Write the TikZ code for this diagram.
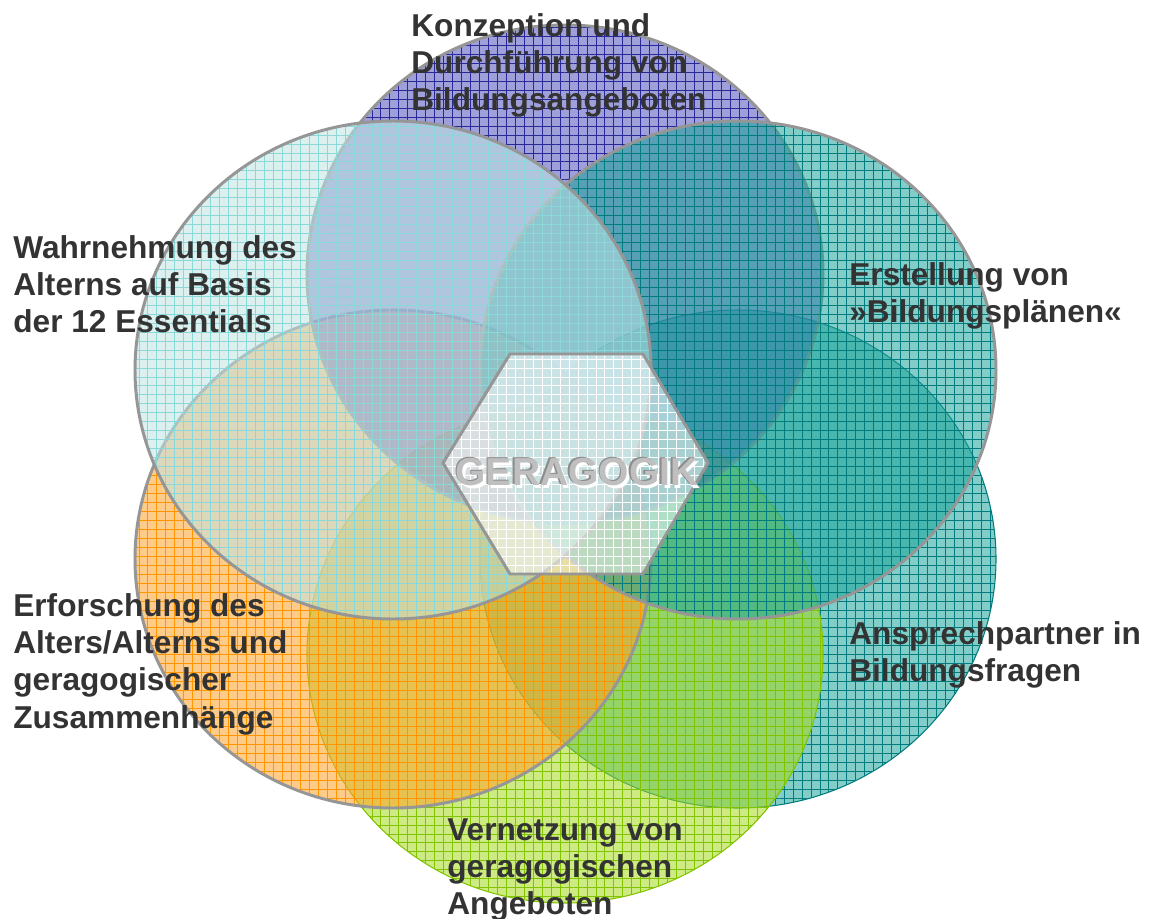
\documentclass[tikz,border=0pt]{standalone}
\usepackage{fontspec}
\setmainfont{Liberation Sans}
\usetikzlibrary{patterns}

\definecolor{rimgray}{RGB}{150,150,150}
\definecolor{txtgray}{RGB}{51,51,51}
\definecolor{lila}{RGB}{80,80,185}
\definecolor{lilagrid}{RGB}{40,40,150}
\definecolor{eis}{RGB}{191,228,228}
\definecolor{eisgrid}{RGB}{140,215,215}
\definecolor{petrol}{RGB}{28,164,155}
\definecolor{petrolgrid}{RGB}{0,124,127}
\definecolor{apricot}{RGB}{255,160,40}
\definecolor{apricotgrid}{RGB}{255,150,0}
\definecolor{maigruen}{RGB}{164,219,28}
\definecolor{maigruengrid}{RGB}{130,195,0}

\pgfdeclarepatternformonly{minigrid}{\pgfqpoint{-0.1pt}{-0.1pt}}{\pgfqpoint{5.2pt}{5.2pt}}{\pgfqpoint{5.1pt}{5.1pt}}{%
  \pgfsetlinewidth{0.4pt}
  \pgfpathmoveto{\pgfqpoint{0pt}{2.55pt}}\pgfpathlineto{\pgfqpoint{5.1pt}{2.55pt}}
  \pgfpathmoveto{\pgfqpoint{2.55pt}{0pt}}\pgfpathlineto{\pgfqpoint{2.55pt}{5.1pt}}
  \pgfusepath{stroke}}

\begin{document}
\begin{tikzpicture}[x=0.02cm, y=0.02cm,
  bubble/.style 2 args={preaction={fill=#1, fill opacity=.55}, pattern=minigrid, pattern color=#2, fill opacity=.5},
  rim/.style={draw=rimgray, line width=1.7pt},
  rubrik/.style={anchor=north west, align=left, inner sep=0pt, text=txtgray, font=\fontsize{18}{21.2}\selectfont\bfseries},
  gerafont/.style={inner sep=0pt, text=black!25, font=\fontsize{22.2}{26}\selectfont\bfseries}]
\useasboundingbox (0,0) rectangle (1150,-919);
% circles, back to front
\path[bubble={petrol}{petrolgrid}, draw=petrolgrid, line width=.6pt] (738,-559) ellipse [x radius=258, y radius=249]; %Ansprechpartner
\path[bubble={maigruen}{maigruengrid}, draw=maigruengrid, line width=.6pt] (565,-654) ellipse [x radius=258, y radius=249]; %Vernetzung
\path[bubble={apricot}{apricotgrid}, rim] (393,-559) ellipse [x radius=258, y radius=249]; %Erforschung
\path[bubble={lila}{lilagrid}, rim] (565,-274) ellipse [x radius=258, y radius=249]; %Konzeption
\path[bubble={petrol}{petrolgrid}, rim] (738,-370) ellipse [x radius=258, y radius=249]; %Erstellung
\path[bubble={eis}{eisgrid}, rim] (393,-370) ellipse [x radius=258, y radius=249]; %Wahrnehmung
% hexagon in the middle
\path[bubble={white}{white}, rim] (443,-463) -- (510,-354) -- (643,-354) -- (708,-463) -- (643,-574) -- (510,-574) -- cycle;
  \node[gerafont] (gera) at (577,-473) {%
    \makebox[0pt][l]{\hspace{1.5pt}\raisebox{-1.5pt}{\color{white}GERAGOGIK}}%
    \makebox[0pt][l]{\hspace{-0.8pt}\raisebox{0.8pt}{\color{black!45}GERAGOGIK}}%
    GERAGOGIK}; %embossed
% texts
     \node[rubrik] (konzeption) at (411,-13) {Konzeption und\\Durchführung von\\Bildungsangeboten};
     \node[rubrik] (wahrnehmung) at (13,-235) {Wahrnehmung des\\Alterns auf Basis\\der 12 Essentials};
     \node[rubrik] (erstellung) at (849,-262) {Erstellung von\\»Bildungsplänen«};
     \node[rubrik] (ansprech) at (849,-621) {Ansprechpartner in\\Bildungsfragen};
     \node[rubrik] (erforschung) at (13,-593) {Erforschung des\\Alters/Alterns und\\geragogischer\\Zusammenhänge};
     \node[rubrik] (vernetzung) at (447,-818) {Vernetzung von\\geragogischen\\Angeboten};
\end{tikzpicture}
\end{document}
